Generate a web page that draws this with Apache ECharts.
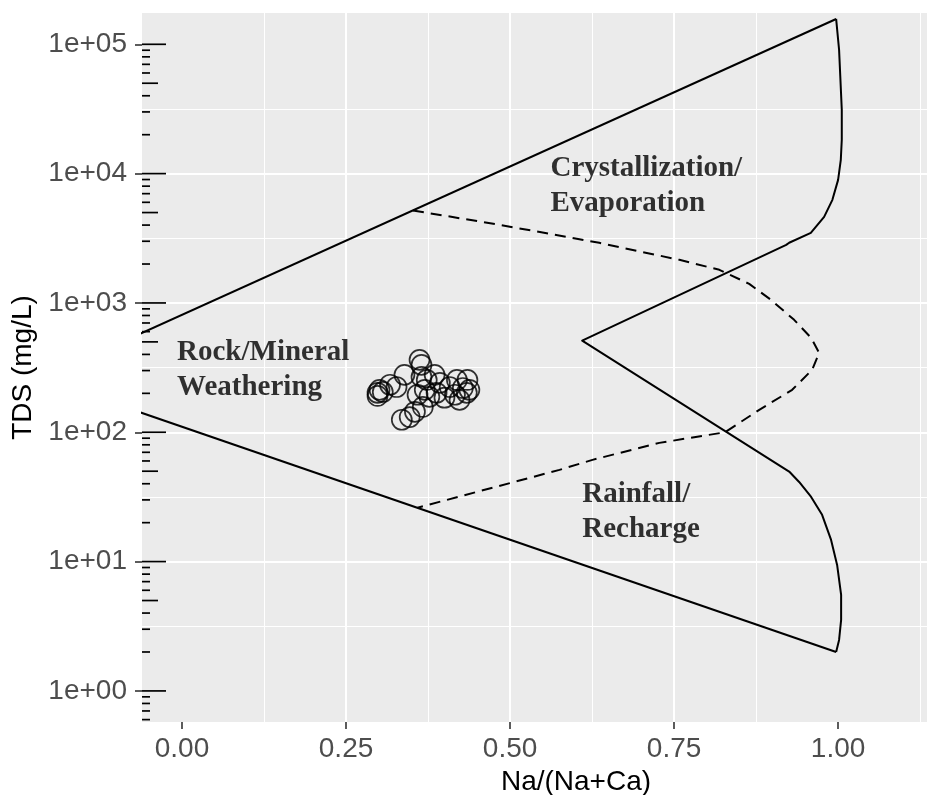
<!DOCTYPE html>
<html>
<head>
<meta charset="utf-8">
<script src="https://cdn.jsdelivr.net/npm/echarts@6/dist/echarts.min.js"></script>
<style>
  html, body { margin: 0; padding: 0; background: #ffffff; }
  #chart { width: 927px; height: 795px; }
</style>
</head>
<body>
<div id="chart"></div>
<script>
// Axis extents: Na/(Na+Ca) ratio and TDS (mg/L)
const xRange = [-0.061, 1.262];
const tdsRange = [0.575, 174600];

const xTickValues = [0, 0.25, 0.5, 0.75, 1.0];
const xTickLabels = ['0.00', '0.25', '0.50', '0.75', '1.00'];
const yTickValues = [1, 10, 100, 1000, 10000, 100000];
const yTickLabels = ['1e+00', '1e+01', '1e+02', '1e+03', '1e+04', '1e+05'];

// Outer envelope of the Gibbs diagram
const upperX = [-0.1, 0.997];
const upperTDS = [478, 157000];
const lowerX = [-0.1, 0.997];
const lowerTDS = [165, 2.0];

// Right-hand boundary: evaporation curve, the inner wedge and the rainfall curve
const rightX = [0.997, 1.0015, 1.0056, 1.0056, 1.0041, 1.0000, 0.9913, 0.9787, 0.9584, 0.9254, 0.9209,
                0.6099,
                0.9254, 0.9406, 0.9589, 0.9756, 0.9893, 0.9985, 1.0046, 1.0046, 1.0015, 0.997];
const rightTDS = [157000, 90600, 31200, 18300, 12800, 8950, 6270, 4630, 3480, 2920, 2810,
                  512,
                  49.7, 41.3, 31.6, 23.0, 14.7, 9.43, 5.53, 3.54, 2.48, 2.0];

// Dashed divide around the rock-weathering field
const dashX = [0.352, 0.484, 0.636, 0.758, 0.819, 0.8645, 0.8976, 0.933, 0.9589, 0.9711, 0.9604,
               0.930, 0.8798, 0.8276, 0.7275, 0.6256, 0.5753, 0.359];
const dashTDS = [5190, 4020, 2917, 2155, 1803, 1405, 1057, 740, 537, 411, 304,
                 213, 149, 100, 82.8, 61.2, 51.2, 26.1];

// Water samples
const sampleRatio = [0.298, 0.301, 0.306, 0.298, 0.362, 0.365, 0.347, 0.335, 0.355, 0.327,
                     0.317, 0.373, 0.377, 0.393, 0.408, 0.428, 0.434, 0.438, 0.423, 0.367,
                     0.388, 0.419, 0.365, 0.359, 0.400, 0.385, 0.435, 0.416, 0.339, 0.370];
const sampleTDS = [202, 213, 205, 191, 363, 332, 131, 125, 144, 224,
                   233, 254, 188, 241, 224, 220, 202, 213, 178, 157,
                   202, 254, 268, 195, 185, 278, 254, 195, 278, 213];

// Field names
const regionText = ['Crystallization/\nEvaporation', 'Rock/Mineral\nWeathering', 'Rainfall/\nRecharge'];
const regionX = [0.5616, -0.0076, 0.610];
const regionTDS = [8050, 304, 24.2];

const log10 = Math.log10;
const pairs = (xs, ys) => xs.map((x, i) => [x, log10(ys[i])]);

const yMin = log10(tdsRange[0]);
const yMax = log10(tdsRange[1]);

// log tick marks (1..9 per decade) drawn along the left edge of the panel
const logTicks = [];
for (let n = -1; n <= 5; n++) {
  for (let k = 1; k <= 9; k++) {
    const v = log10(k) + n;
    if (v >= yMin && v <= yMax) logTicks.push([xRange[0], v, k]);
  }
}

const sans = 'Liberation Sans, Arial, Helvetica, sans-serif';
const serif = 'Liberation Serif, Times New Roman, serif';

const yLabelFor = v => {
  const i = yTickValues.findIndex(t => Math.abs(log10(t) - v) < 1e-6);
  return i >= 0 ? yTickLabels[i] : '';
};
const xLabelFor = v => {
  const i = xTickValues.findIndex(t => Math.abs(t - v) < 1e-6);
  return i >= 0 ? xTickLabels[i] : '';
};

const chart = echarts.init(document.getElementById('chart'), null, { renderer: 'canvas' });

chart.setOption({
  animation: false,
  backgroundColor: '#ffffff',
  grid: {
    left: 142, top: 13, width: 868, height: 709,
    outerBoundsMode: 'none',
    show: true, backgroundColor: '#EBEBEB', borderWidth: 0,
    containLabel: false
  },
  xAxis: {
    type: 'value',
    min: xRange[0], max: xRange[1],
    minInterval: 0.25, maxInterval: 0.25,
    name: 'Na/(Na+Ca)',
    nameLocation: 'middle',
    nameGap: 44,
    nameTextStyle: { fontFamily: sans, fontSize: 28, color: '#000000' },
    axisLine: { show: false, onZero: false },
    axisTick: { show: true, length: 7, customValues: xTickValues, lineStyle: { color: '#333333', width: 1.6 } },
    axisLabel: { show: true, margin: 13, customValues: xTickValues, formatter: xLabelFor,
                 fontFamily: sans, fontSize: 28, color: '#4D4D4D' },
    splitLine: { show: true, showMinLine: false, showMaxLine: false, lineStyle: { color: '#ffffff', width: 2 } },
    minorTick: { show: false, splitNumber: 2 },
    minorSplitLine: { show: true, lineStyle: { color: '#ffffff', width: 1 } }
  },
  yAxis: {
    type: 'value',
    min: yMin, max: yMax,
    minInterval: 1, maxInterval: 1,
    name: 'TDS (mg/L)',
    nameLocation: 'middle',
    nameGap: 104,
    nameRotate: 90,
    nameTextStyle: { fontFamily: sans, fontSize: 28, color: '#000000' },
    axisLine: { show: false, onZero: false },
    axisTick: { show: true, length: 7, customValues: yTickValues.map(log10), lineStyle: { color: '#333333', width: 1.6 } },
    axisLabel: { show: true, margin: 15, customValues: yTickValues.map(log10), formatter: yLabelFor,
                 fontFamily: sans, fontSize: 28, color: '#4D4D4D' },
    splitLine: { show: true, showMinLine: false, showMaxLine: false, lineStyle: { color: '#ffffff', width: 2 } },
    minorTick: { show: false, splitNumber: 2 },
    minorSplitLine: { show: true, lineStyle: { color: '#ffffff', width: 1 } }
  },
  series: [
    {
      name: 'log ticks',
      type: 'custom',
      silent: true,
      clip: false,
      data: logTicks,
      encode: { x: 0, y: 1 },
      renderItem: (params, api) => {
        const p = api.coord([api.value(0), api.value(1)]);
        const k = api.value(2);
        const len = k === 1 ? 24 : (k === 5 ? 16 : 8);
        return {
          type: 'line',
          shape: { x1: p[0], y1: p[1], x2: p[0] + len, y2: p[1] },
          style: { stroke: '#000000', lineWidth: 1.7 }
        };
      }
    },
    {
      name: 'upper envelope',
      type: 'line', clip: true, showSymbol: false, silent: true,
      data: pairs(upperX, upperTDS),
      lineStyle: { color: '#000000', width: 2 }
    },
    {
      name: 'lower envelope',
      type: 'line', clip: true, showSymbol: false, silent: true,
      data: pairs(lowerX, lowerTDS),
      lineStyle: { color: '#000000', width: 2 }
    },
    {
      name: 'right boundary',
      type: 'line', clip: true, showSymbol: false, silent: true,
      data: pairs(rightX, rightTDS),
      lineStyle: { color: '#000000', width: 2, join: 'round' }
    },
    {
      name: 'weathering divide',
      type: 'line', clip: true, showSymbol: false, silent: true,
      data: pairs(dashX, dashTDS),
      lineStyle: { color: '#000000', width: 2, type: [11, 7] }
    },
    {
      name: 'samples',
      type: 'scatter',
      symbol: 'circle',
      symbolSize: 20,
      data: pairs(sampleRatio, sampleTDS),
      itemStyle: { color: 'rgba(0,0,0,0)', borderColor: 'rgba(0,0,0,0.8)', borderWidth: 1.7, opacity: 1 }
    },
    {
      name: 'fields',
      type: 'scatter',
      symbolSize: 0,
      silent: true,
      data: pairs(regionX, regionTDS),
      label: {
        show: true,
        position: 'right',
        distance: 0,
        formatter: p => regionText[p.dataIndex],
        fontFamily: serif,
        fontWeight: 'bold',
        fontSize: 29,
        lineHeight: 35,
        color: '#000000',
        textBorderWidth: 0,
        align: 'left',
        verticalAlign: 'middle'
      }
    }
  ]
});
</script>
</body>
</html>
